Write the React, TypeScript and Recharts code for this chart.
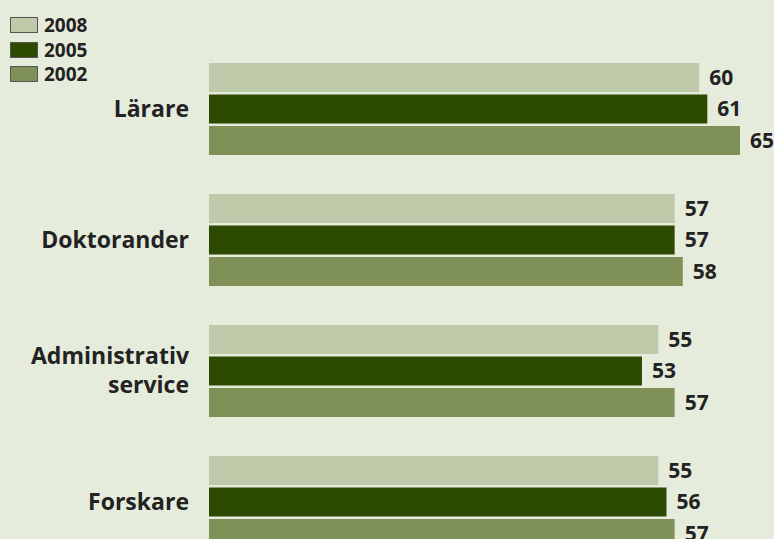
import { BarChart, Bar, XAxis, YAxis, LabelList } from 'recharts'

const categories = ['Lärare', 'Doktorander', 'Administrativ\nservice', 'Forskare']
const years = ['2008', '2005', '2002']
const values2008 = [60, 57, 55, 55]
const values2005 = [61, 57, 53, 56]
const values2002 = [65, 58, 57, 57]

const COLORS = ['#bfcaaa', '#2d4b00', '#7f9157']
const BG = '#e6ecdb'
const TEXT = '#222222'
const FONT = '"Open Sans", "Noto Sans", sans-serif'

const data = categories.map((name, i) => ({
  name,
  '2008': values2008[i],
  '2005': values2005[i],
  '2002': values2002[i]
}))

function CategoryTick(props: any) {
  const { x, y, payload } = props
  const lines = String(payload.value).split('\n')
  const lineHeight = 29
  const startDy = 8 - ((lines.length - 1) * lineHeight) / 2
  return (
    <text x={x} y={y} textAnchor="end" fill={TEXT} fontSize={23} fontWeight={700} fontFamily={FONT}>
      {lines.map((line, i) => (
        <tspan key={i} x={x} dy={i === 0 ? startDy : lineHeight}>
          {line}
        </tspan>
      ))}
    </text>
  )
}

export default function App() {
  return (
    <div
      style={{
        position: 'absolute',
        left: 0,
        top: 0,
        width: 774,
        height: 539,
        background: BG,
        overflow: 'hidden',
        fontFamily: FONT
      }}
    >
      <div style={{ position: 'absolute', left: 10, top: 13, zIndex: 2 }}>
        {years.map((y, i) => (
          <div key={y} style={{ display: 'flex', alignItems: 'center', height: 24.5 }}>
            <div
              style={{
                width: 26,
                height: 14,
                background: COLORS[i],
                border: '1px solid #555',
                marginRight: 6
              }}
            />
            <span style={{ fontSize: 19, fontWeight: 700, color: TEXT, lineHeight: '22px' }}>{y}</span>
          </div>
        ))}
      </div>
      <BarChart
        width={774}
        height={567}
        data={data}
        layout="vertical"
        margin={{ top: 43, right: 34, bottom: 0, left: 0 }}
        barSize={29}
        barGap={2.5}
      >
        <XAxis type="number" domain={[0, 65]} hide />
        <YAxis
          type="category"
          dataKey="name"
          width={209}
          axisLine={false}
          tickLine={false}
          tickSize={0}
          tickMargin={20}
          tick={<CategoryTick />}
          interval={0}
        />
        {years.map((y, i) => (
          <Bar key={y} dataKey={y} fill={COLORS[i]} isAnimationActive={false}>
            <LabelList
              dataKey={y}
              position="right"
              offset={10}
              fill={TEXT}
              fontSize={21}
              fontWeight={700}
              fontFamily={FONT}
            />
          </Bar>
        ))}
      </BarChart>
    </div>
  )
}
